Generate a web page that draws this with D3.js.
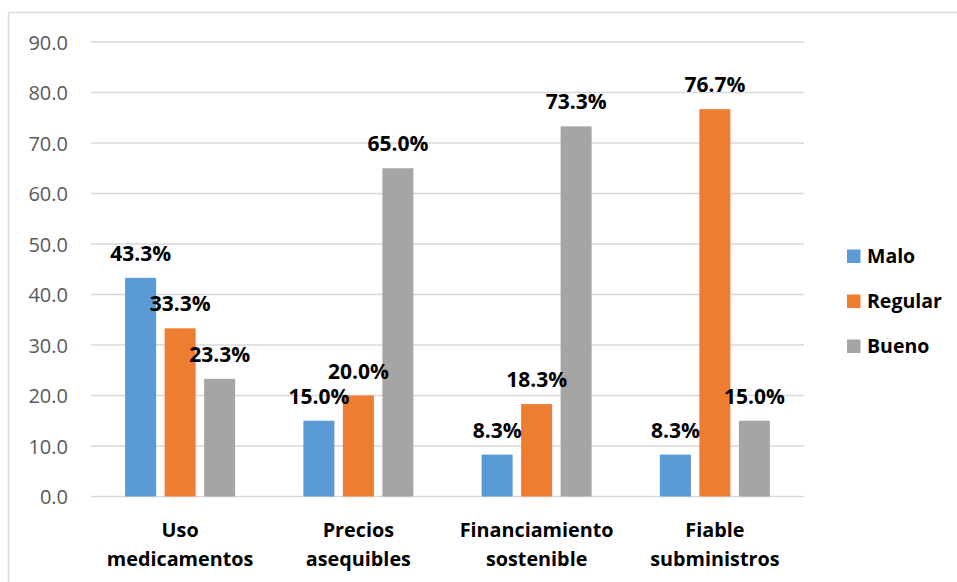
<!DOCTYPE html>
<html>
<head>
<meta charset="utf-8">
<script src="https://cdn.jsdelivr.net/npm/d3@7"></script>
<style>
  html, body { margin: 0; padding: 0; background: #fff; }
  svg { display: block; }
</style>
</head>
<body>
<svg id="chart" width="957" height="582"></svg>
<script>
// Categories (two-line labels) and series values, in percent
const categories = ["Uso medicamentos", "Precios asequibles", "Financiamiento sostenible", "Fiable subministros"];
const categoryLines = [["Uso", "medicamentos"], ["Precios", "asequibles"], ["Financiamiento", "sostenible"], ["Fiable", "subministros"]];
const seriesNames = ["Malo", "Regular", "Bueno"];
const malo = [43.3, 15.0, 8.3, 8.3];
const regular = [33.3, 20.0, 18.3, 76.7];
const bueno = [23.3, 65.0, 73.3, 15.0];
const yTicks = [0, 10, 20, 30, 40, 50, 60, 70, 80, 90];
const colors = ["#5B9BD5", "#ED7D31", "#A5A5A5"];

const seriesValues = [malo, regular, bueno];
const rows = categories.map((c, i) => ({
  category: c,
  values: seriesNames.map((s, k) => ({ series: s, value: seriesValues[k][i], color: colors[k] }))
}));

const svg = d3.select("#chart");
const plot = { left: 91, right: 804, top: 42, bottom: 496.5 };
const groupWidth = 110;

// Outer frame (top and left edges visible)
svg.append("line").attr("x1", 8.5).attr("x2", 957).attr("y1", 12.5).attr("y2", 12.5)
  .attr("stroke", "#d9d9d9").attr("stroke-width", 1.5);
svg.append("line").attr("x1", 8.5).attr("x2", 8.5).attr("y1", 12.5).attr("y2", 582)
  .attr("stroke", "#d9d9d9").attr("stroke-width", 1.5);

const y = d3.scaleLinear().domain([0, 90]).range([plot.bottom, plot.top]);
const x0 = d3.scaleBand().domain(categories).range([plot.left, plot.right]).padding(0);
const x1 = d3.scaleBand().domain(seriesNames).range([0, groupWidth]).paddingInner(0.215).paddingOuter(0);

// Horizontal gridlines
svg.append("g").selectAll("line").data(yTicks).join("line")
  .attr("x1", plot.left).attr("x2", plot.right)
  .attr("y1", d => y(d)).attr("y2", d => y(d))
  .attr("stroke", "#d9d9d9").attr("stroke-width", 1.3);

// Y axis labels
const yAxis = d3.axisLeft(y).tickValues(yTicks).tickFormat(d3.format(".1f")).tickSize(0).tickPadding(0);
const yg = svg.append("g").attr("transform", `translate(68,0)`).call(yAxis);
yg.select(".domain").remove();
yg.selectAll("text")
  .attr("font-family", "'Open Sans', sans-serif")
  .attr("font-size", 20)
  .attr("fill", "#595959")
  .attr("dy", "0.35em");

// Bars
const groups = svg.append("g").selectAll("g").data(rows).join("g")
  .attr("transform", d => `translate(${x0(d.category) + (x0.bandwidth() - groupWidth) / 2},0)`);

groups.selectAll("rect").data(d => d.values).join("rect")
  .attr("x", d => x1(d.series))
  .attr("width", x1.bandwidth())
  .attr("y", d => y(d.value))
  .attr("height", d => y(0) - y(d.value))
  .attr("fill", d => d.color);

// Value labels above bars
groups.selectAll("text").data(d => d.values).join("text")
  .attr("x", d => x1(d.series) + x1.bandwidth() / 2)
  .attr("y", d => y(d.value) - 17)
  .attr("text-anchor", "middle")
  .attr("font-family", "'Open Sans', sans-serif")
  .attr("font-weight", "bold")
  .attr("font-size", 21)
  .attr("fill", "#000")
  .text(d => d.value.toFixed(1) + "%");

// Category labels
const catLabels = svg.append("g").selectAll("text").data(categories).join("text")
  .attr("text-anchor", "middle")
  .attr("font-family", "'Open Sans', sans-serif")
  .attr("font-weight", "bold")
  .attr("font-size", 19.8)
  .attr("fill", "#000");
catLabels.each(function(d, i) {
  const t = d3.select(this);
  const cx = x0(d) + x0.bandwidth() / 2;
  categoryLines[i].forEach((line, j) => {
    t.append("tspan").attr("x", cx).attr("y", 537 + j * 28.5).text(line);
  });
});

// Legend
const legend = svg.append("g").selectAll("g").data(seriesNames).join("g")
  .attr("transform", (d, i) => `translate(847,${256 + i * 45})`);
legend.append("rect").attr("x", 0).attr("y", -6.5).attr("width", 13.5).attr("height", 13.5)
  .attr("fill", (d, i) => colors[i]);
legend.append("text").attr("x", 20).attr("y", 0).attr("dy", "0.35em")
  .attr("font-family", "'Open Sans', sans-serif")
  .attr("font-weight", "bold")
  .attr("font-size", 19.5)
  .attr("fill", "#000")
  .text(d => d);
</script>
</body>
</html>
